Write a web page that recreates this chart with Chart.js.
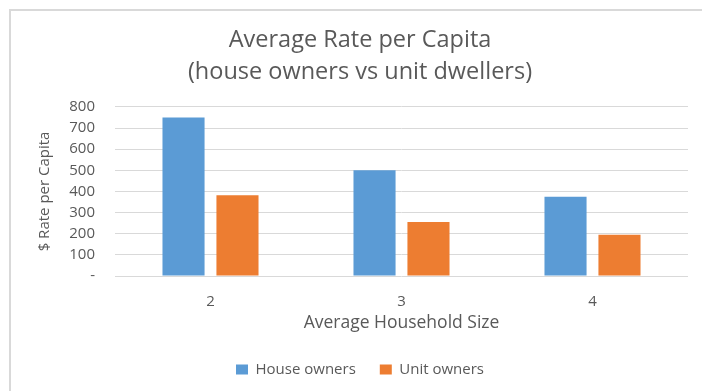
<!DOCTYPE html>
<html>
<head>
<meta charset="utf-8">
<script src="https://cdn.jsdelivr.net/npm/chart.js@4"></script>
<style>
  html, body { margin: 0; padding: 0; background: #fff; }
  #wrap { position: relative; width: 702px; height: 391px; }
  #frame {
    position: absolute; left: 9px; top: 9px; width: 720px; height: 400px;
    border-left: 2px solid #d9d9d9; border-top: 2px solid #d9d9d9;
    pointer-events: none;
  }
</style>
</head>
<body>
<div id="wrap">
  <canvas id="rateChart" width="702" height="391"></canvas>
  <div id="frame"></div>
</div>
<script>
// Chart values
const householdSizes = ['2', '3', '4'];
const houseOwners = [750, 500, 375];
const unitOwners = [382, 255, 195];
const seriesNames = ['House owners', 'Unit owners'];
const titleLines = ['Average Rate per Capita', '(house owners vs unit dwellers)'];

const textGrey = '#595959';
const fontName = 'Open Sans';

const ctx = document.getElementById('rateChart').getContext('2d');
const chart = new Chart(ctx, {
  type: 'bar',
  data: {
    labels: householdSizes,
    datasets: [{
      label: seriesNames[0],
      data: houseOwners,
      backgroundColor: '#5b9bd5',
      barPercentage: 0.78,
      categoryPercentage: 0.565
    }, {
      label: seriesNames[1],
      data: unitOwners,
      backgroundColor: '#ed7d31',
      barPercentage: 0.78,
      categoryPercentage: 0.565
    }]
  },
  options: {
    responsive: false,
    animation: false,
    layout: { padding: { left: 32, right: 14, top: 0, bottom: 4 } },
    plugins: {
      title: {
        display: true,
        text: titleLines,
        color: textGrey,
        font: { family: fontName, size: 23.5, weight: 'normal', lineHeight: 1.36 },
        padding: { top: 24, bottom: 19 }
      },
      legend: {
        position: 'bottom',
        labels: {
          color: textGrey,
          font: { family: fontName, size: 15 },
          boxWidth: 12,
          boxHeight: 10,
          padding: 24
        }
      },
      tooltip: { enabled: false }
    },
    scales: {
      x: {
        grid: { display: false },
        border: { display: false },
        ticks: { color: textGrey, font: { family: fontName, size: 15 }, padding: 9 },
        title: {
          display: true,
          text: 'Average Household Size',
          color: textGrey,
          font: { family: fontName, size: 17.5 },
          padding: { top: 0, bottom: 4 }
        },
        afterFit: (scale) => { scale.height = 62; }
      },
      y: {
        min: 0,
        max: 800,
        ticks: {
          stepSize: 100,
          autoSkip: false,
          color: textGrey,
          font: { family: fontName, size: 15 },
          padding: 20,
          callback: (v) => v === 0 ? '-' : v
        },
        grid: { color: '#d9d9d9', lineWidth: 1, drawTicks: false },
        border: { display: false },
        title: {
          display: true,
          text: '$ Rate per Capita',
          color: textGrey,
          font: { family: fontName, size: 15 },
          padding: { top: 4, bottom: 0 }
        },
        afterFit: (scale) => { scale.width = 83; }
      }
    }
  }
});
</script>
</body>
</html>
